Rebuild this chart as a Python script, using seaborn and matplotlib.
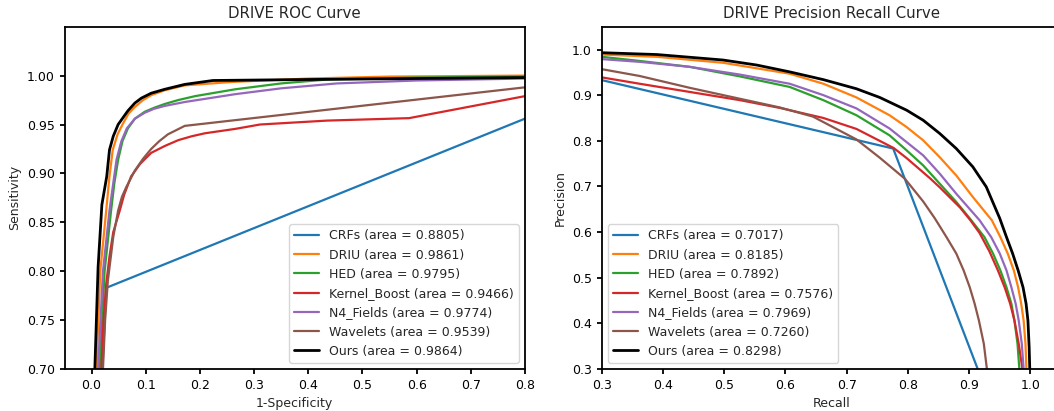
import numpy as np
import matplotlib
matplotlib.use('Agg')
import matplotlib.pyplot as plt
import seaborn as sns

names = ['CRFs', 'DRIU', 'HED', 'Kernel_Boost', 'N4_Fields', 'Wavelets', 'Ours']
colors = ['#1f77b4', '#ff7f0e', '#2ca02c', '#d62728', '#9467bd', '#8c564b', 'black']
roc_auc = [0.8805, 0.9861, 0.9795, 0.9466, 0.9774, 0.9539, 0.9864]
pr_auc = [0.7017, 0.8185, 0.7892, 0.7576, 0.7969, 0.7260, 0.8298]

# ROC curves (1-specificity, sensitivity)
fpr_crfs = [0.020, 0.027, 0.80]
tpr_crfs = [0.70, 0.783, 0.956]
fpr_driu = [0.009, 0.016, 0.027, 0.033, 0.039, 0.048, 0.058, 0.068, 0.080, 0.095, 0.110, 0.135,
            0.172, 0.259, 0.40, 0.55, 0.80]
tpr_driu = [0.70, 0.80, 0.862, 0.897, 0.924, 0.940, 0.951, 0.961, 0.968, 0.975, 0.980, 0.985,
            0.990, 0.9935, 0.997, 0.999, 1.000]
fpr_hed = [0.015, 0.024, 0.036, 0.042, 0.049, 0.057, 0.067, 0.080, 0.098, 0.115, 0.135, 0.160,
           0.191, 0.265, 0.35, 0.435, 0.60, 0.80]
tpr_hed = [0.70, 0.80, 0.862, 0.890, 0.914, 0.933, 0.946, 0.956, 0.963, 0.967, 0.971, 0.975,
           0.979, 0.986, 0.992, 0.996, 0.998, 0.999]
fpr_kb = [0.018, 0.022, 0.027, 0.033, 0.040, 0.052, 0.060, 0.073, 0.090, 0.110, 0.135, 0.160,
          0.185, 0.209, 0.265, 0.311, 0.373, 0.435, 0.586, 0.80]
tpr_kb = [0.70, 0.75, 0.787, 0.815, 0.840, 0.862, 0.878, 0.897, 0.910, 0.921, 0.928, 0.934,
          0.938, 0.941, 0.9455, 0.950, 0.952, 0.954, 0.9565, 0.979]
fpr_n4 = [0.012, 0.021, 0.033, 0.040, 0.046, 0.055, 0.065, 0.080, 0.098, 0.115, 0.135, 0.172,
          0.265, 0.35, 0.453, 0.60, 0.80]
tpr_n4 = [0.70, 0.80, 0.862, 0.890, 0.914, 0.933, 0.946, 0.956, 0.962, 0.966, 0.969, 0.973,
          0.981, 0.987, 0.992, 0.995, 0.997]
fpr_wav = [0.021, 0.025, 0.030, 0.040, 0.049, 0.056, 0.064, 0.080, 0.095, 0.110, 0.125, 0.141,
           0.172, 0.80]
tpr_wav = [0.70, 0.75, 0.79, 0.835, 0.862, 0.876, 0.886, 0.903, 0.915, 0.925, 0.933, 0.940,
           0.9486, 0.988]
fpr_ours = [0.006, 0.012, 0.019, 0.028, 0.033, 0.040, 0.049, 0.058, 0.067, 0.080, 0.092, 0.110,
            0.135, 0.172, 0.224, 0.40, 0.60, 0.80]
tpr_ours = [0.70, 0.804, 0.868, 0.897, 0.924, 0.938, 0.950, 0.957, 0.964, 0.972, 0.977, 0.982,
            0.986, 0.991, 0.995, 0.996, 0.997, 0.998]

# precision-recall curves
rec_crfs = [0.30, 0.776, 0.914]
prec_crfs = [0.933, 0.783, 0.30]
rec_driu = [0.30, 0.390, 0.498, 0.607, 0.662, 0.716, 0.770, 0.798, 0.825, 0.852, 0.879, 0.906,
            0.937, 0.951, 0.963, 0.973, 0.980, 0.985, 0.989, 0.992, 0.9935]
prec_driu = [0.989, 0.984, 0.971, 0.947, 0.925, 0.895, 0.856, 0.830, 0.801, 0.764, 0.724, 0.677,
             0.626, 0.589, 0.553, 0.516, 0.479, 0.443, 0.406, 0.355, 0.30]
rec_hed = [0.30, 0.362, 0.444, 0.526, 0.607, 0.662, 0.716, 0.770, 0.798, 0.825, 0.852, 0.879,
           0.901, 0.925, 0.939, 0.951, 0.961, 0.969, 0.974, 0.979, 0.982]
prec_hed = [0.984, 0.975, 0.962, 0.941, 0.918, 0.889, 0.856, 0.812, 0.779, 0.746, 0.706, 0.666,
            0.630, 0.589, 0.553, 0.516, 0.479, 0.443, 0.406, 0.355, 0.30]
rec_kb = [0.30, 0.362, 0.444, 0.526, 0.591, 0.662, 0.716, 0.777, 0.798, 0.836, 0.852, 0.885,
          0.902, 0.917, 0.933, 0.947, 0.958, 0.967, 0.974, 0.981, 0.987]
prec_kb = [0.939, 0.925, 0.907, 0.889, 0.872, 0.850, 0.826, 0.784, 0.762, 0.718, 0.698, 0.654,
           0.626, 0.598, 0.558, 0.516, 0.479, 0.443, 0.406, 0.355, 0.30]
rec_n4 = [0.30, 0.362, 0.444, 0.526, 0.607, 0.662, 0.716, 0.770, 0.798, 0.825, 0.852, 0.879,
          0.917, 0.936, 0.950, 0.961, 0.969, 0.976, 0.981, 0.986, 0.989]
prec_n4 = [0.979, 0.973, 0.962, 0.945, 0.925, 0.900, 0.871, 0.827, 0.797, 0.768, 0.728, 0.684,
           0.626, 0.589, 0.553, 0.516, 0.479, 0.443, 0.406, 0.355, 0.30]
rec_wav = [0.30, 0.362, 0.444, 0.526, 0.591, 0.645, 0.716, 0.754, 0.795, 0.825, 0.844, 0.863,
           0.879, 0.891, 0.901, 0.909, 0.916, 0.924, 0.929]
prec_wav = [0.957, 0.942, 0.916, 0.892, 0.873, 0.853, 0.803, 0.763, 0.717, 0.667, 0.630, 0.589,
            0.553, 0.516, 0.479, 0.443, 0.406, 0.355, 0.30]
rec_ours = [0.30, 0.390, 0.498, 0.553, 0.607, 0.662, 0.716, 0.754, 0.798, 0.825, 0.852, 0.879,
            0.906, 0.928, 0.950, 0.961, 0.971, 0.980, 0.988, 0.993, 0.996, 0.998, 0.999]
prec_ours = [0.993, 0.989, 0.977, 0.966, 0.951, 0.934, 0.914, 0.895, 0.867, 0.845, 0.816, 0.783,
             0.743, 0.699, 0.630, 0.589, 0.553, 0.516, 0.479, 0.443, 0.406, 0.348, 0.30]

roc_x = [fpr_crfs, fpr_driu, fpr_hed, fpr_kb, fpr_n4, fpr_wav, fpr_ours]
roc_y = [tpr_crfs, tpr_driu, tpr_hed, tpr_kb, tpr_n4, tpr_wav, tpr_ours]
pr_x = [rec_crfs, rec_driu, rec_hed, rec_kb, rec_n4, rec_wav, rec_ours]
pr_y = [prec_crfs, prec_driu, prec_hed, prec_kb, prec_n4, prec_wav, prec_ours]

roc_xticks = [0.0, 0.1, 0.2, 0.3, 0.4, 0.5, 0.6, 0.7, 0.8]
roc_yticks = [0.70, 0.75, 0.80, 0.85, 0.90, 0.95, 1.00]
pr_ticks = [0.3, 0.4, 0.5, 0.6, 0.7, 0.8, 0.9, 1.0]

sns.set_style('ticks')
plt.rcParams['font.family'] = ['DejaVu Sans']
plt.rcParams['font.size'] = 9
plt.rcParams['axes.linewidth'] = 1.3
plt.rcParams['xtick.major.width'] = 1.3
plt.rcParams['ytick.major.width'] = 1.3
plt.rcParams['xtick.color'] = 'black'
plt.rcParams['ytick.color'] = 'black'

fig = plt.figure(figsize=(10.54, 4.11), dpi=100)
W, H = 1054.0, 411.0
ax1 = fig.add_axes([64.5 / W, 1 - 369 / H, (525 - 64.5) / W, (369 - 26.7) / H])
ax2 = fig.add_axes([601.7 / W, 1 - 369 / H, (1061 - 601.7) / W, (369 - 26.7) / H])

for i in range(len(names)):
    lw = 2.0 if names[i] == 'Ours' else 1.6
    sns.lineplot(x=roc_x[i], y=roc_y[i], sort=False, estimator=None, color=colors[i], lw=lw,
                 label='%s (area = %.4f)' % (names[i], roc_auc[i]), ax=ax1)
    sns.lineplot(x=pr_x[i], y=pr_y[i], sort=False, estimator=None, color=colors[i], lw=lw,
                 label='%s (area = %.4f)' % (names[i], pr_auc[i]), ax=ax2)

ax1.set_xlim(-0.05, 0.8)
ax1.set_ylim(0.70, 1.05)
ax1.set_xticks(roc_xticks)
ax1.set_yticks(roc_yticks)
ax1.set_xlabel('1-Specificity')
ax1.set_ylabel('Sensitivity')
ax1.set_title('DRIVE ROC Curve')
ax1.legend(loc='lower right', fontsize=9)

ax2.set_xlim(0.3, 1.05)
ax2.set_ylim(0.3, 1.05)
ax2.set_xticks(pr_ticks)
ax2.set_yticks(pr_ticks)
ax2.set_xlabel('Recall')
ax2.set_ylabel('Precision')
ax2.set_title('DRIVE Precision Recall Curve')
ax2.legend(loc='lower left', fontsize=9)

for ax in (ax1, ax2):
    for s in ax.spines.values():
        s.set_color('black')

fig.savefig('out.png', dpi=100)
